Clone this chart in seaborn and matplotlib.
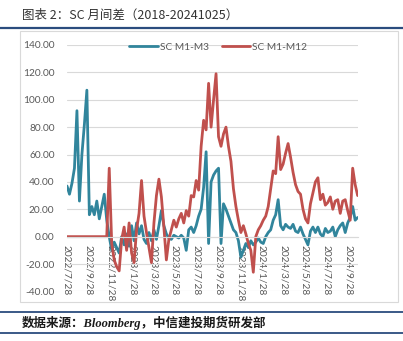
import matplotlib
matplotlib.use("Agg")
import matplotlib.pyplot as plt
from matplotlib.patches import Rectangle
from matplotlib.lines import Line2D
import pandas as pd
import seaborn as sns

# Weekly SC calendar spreads, first observation 2022-07-28
first_date = "2022-07-28"
m1_m3 = [
    37, 31, 39, 50, 92, 26, 60, 82, 107, 16,
    22, 16, 26, 13, 22, 31, 12, 0, -10, -4,
    -8, -12, 0, -6, 2, -7, 8, -3, 10, 2,
    8, -2, -5, 3, -3, 5, -2, 8, 19, 8,
    2, -1, -2, 1, 0, -1, 1, -1, -10, 5,
    7, 3, 8, 15, 20, 36, 62, -5, 40, 45,
    48, 50, -5, 24, 20, 15, 10, 5, 3, -3,
    -15, -10, -5, -8, -3, -6, -4, -1, -4, -5,
    0, 3, 5, 12, 16, 27, 8, 5, 9, 7,
    6, 9, 4, 3, 7, 2, -2, -6, 4, 7,
    3, 7, 2, 0, 6, 3, 4, 7, 0, 5,
    8, 10, 3, 10, 14, 22, 12, 14,
]
m1_m12 = [
    0, 0, 0, 0, 0, 0, 0, 0, 0, 0,
    0, 0, 0, 0, 0, 0, 0, 50, -5, -17,
    -22, -25, -2, 7, -10, 10, -12, -19, 5, 17,
    41, 15, 3, -8, -19, 10, 30, 42, 29, 7,
    -17, -2, 5, 12, 7, 13, 17, 10, 19, 15,
    30, 29, 41, 34, 66, 85, 78, 112, 80, 100,
    119, 73, 66, 75, 80, 66, 55, 35, 22, 12,
    3, 8, 2, -5, -10, -26, 0, 5, 8, 12,
    15, 22, 35, 48, 46, 73, 49, 53, 61, 68,
    58, 47, 38, 33, 31, 20, 13, 10, 24, 32,
    40, 43, 27, 31, 23, 25, 29, 20, 26, 27,
    17, 26, 27, 19, 12, 50, 38, 30,
]
series_names = ["SC M1-M3", "SC M1-M12"]
series_colors = ["#31859C", "#C0504D"]
tick_labels = [
    "2022/7/28", "2022/9/28", "2022/11/28", "2023/1/28", "2023/3/28",
    "2023/5/28", "2023/7/28", "2023/9/28", "2023/11/28", "2024/1/28",
    "2024/3/28", "2024/5/28", "2024/7/28", "2024/9/28",
]
y_ticks = [-40, -20, 0, 20, 40, 60, 80, 100, 120, 140]
last_date = "2024-10-25"

dates = pd.date_range(first_date, periods=len(m1_m3), freq="7D")
wide = pd.DataFrame({"date": dates, series_names[0]: m1_m3, series_names[1]: m1_m12})
long = wide.melt(id_vars="date", var_name="series", value_name="spread")

sns.set_style("white")
plt.rcParams["font.family"] = ["Lato", "Noto Sans CJK SC", "DejaVu Sans"]

W, H = 403, 341
fig = plt.figure(figsize=(W / 100, H / 100), dpi=100)
fig.patch.set_facecolor("white")

# plot area in pixel terms: x 67..358, y 45..291.4
left, right, top, bottom = 67, 358, 45, 291.4
ax = fig.add_axes([left / W, 1 - bottom / H, (right - left) / W, (bottom - top) / H])

sns.lineplot(
    data=long, x="date", y="spread", hue="series", hue_order=series_names,
    palette=dict(zip(series_names, series_colors)), linewidth=2.0, ax=ax,
)

ax.set_ylim(y_ticks[0], y_ticks[-1])
ax.set_xlim(pd.Timestamp(first_date), pd.Timestamp(last_date))
ax.set_yticks(y_ticks)
ax.set_yticklabels([f"{v:.2f}" for v in y_ticks])
tick_pos = pd.to_datetime(tick_labels, format="%Y/%m/%d")
ax.set_xticks(tick_pos)
ax.set_xticklabels(tick_labels)
ax.set_xlabel("")
ax.set_ylabel("")
ax.yaxis.grid(True, color="#D9D9D9", linewidth=0.8)
ax.xaxis.grid(False)
ax.set_axisbelow(True)
for side in ["top", "right", "left"]:
    ax.spines[side].set_visible(False)
ax.spines["bottom"].set_position(("data", 0))
ax.spines["bottom"].set_color("#D9D9D9")
ax.spines["bottom"].set_linewidth(0.8)
ax.patch.set_alpha(0)

ax.tick_params(axis="both", length=0, labelsize=7.3, labelcolor="#595959")
ax.tick_params(axis="y", pad=9)
ax.tick_params(axis="x", pad=6, labelrotation=-90)
for lbl in ax.get_xticklabels():
    lbl.set_horizontalalignment("center")
    lbl.set_verticalalignment("top")

handles, labels = ax.get_legend_handles_labels()
ax.legend(handles, labels, loc="center", bbox_to_anchor=(0.52, 0.99), ncol=2,
          frameon=False, fontsize=7.3, handlelength=2.8, handletextpad=0.2,
          columnspacing=1.3, labelcolor="#595959")

# chart border
fig.patches.append(Rectangle((20 / W, 1 - 302 / H), (398 - 20) / W, (302 - 31) / H,
                             transform=fig.transFigure, fill=False,
                             edgecolor="#D9D9D9", linewidth=0.8))

# rules above and below the chart
rule_color = "#2B4C7E"
for ypix, lw in [(27.5, 1.6), (311.5, 1.3), (333, 1.3)]:
    fig.add_artist(Line2D([0, 1], [1 - ypix / H] * 2, transform=fig.transFigure,
                          color=rule_color, linewidth=lw))

fig.text(22 / W, 1 - 15.5 / H, "图表 2：SC 月间差（2018-20241025）", ha="left",
         va="center", fontsize=9, color="#333333",
         family=["Noto Sans CJK SC", "DejaVu Sans"])
fig.text(22 / W, 1 - 322.5 / H, "数据来源：Bloomberg，中信建投期货研发部", ha="left",
         va="center", fontsize=9, color="#1A1A1A", fontweight="bold",
         fontstyle="italic", family=["Liberation Serif", "Noto Sans CJK SC"])

fig.savefig("out.png", dpi=100)
